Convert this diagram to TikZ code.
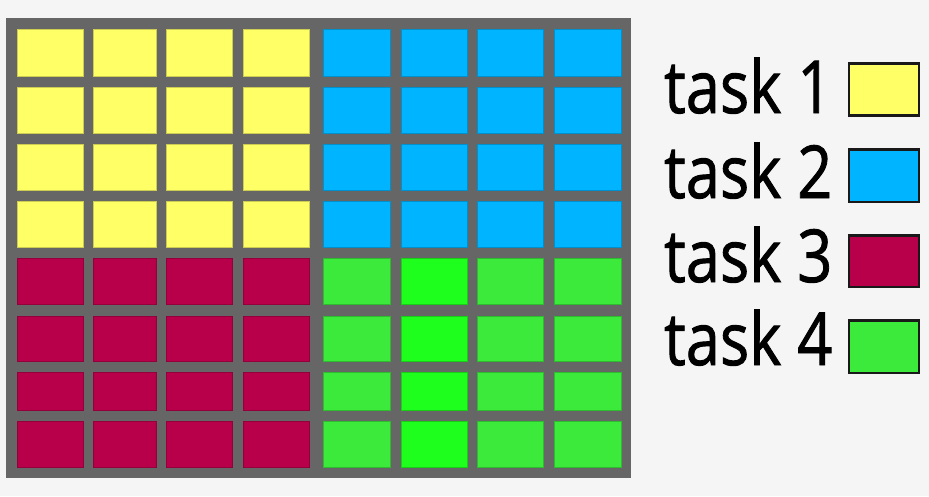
\documentclass[tikz,border=0pt]{standalone}
\usepackage{fontspec}
\setmainfont{Open Sans}
\newfontfamily\legfont[FakeBold=1.3]{Open Sans}
\definecolor{bg}{HTML}{F5F5F5}
\definecolor{frame}{HTML}{666666}
\definecolor{tyellow}{HTML}{FFFF66}
\definecolor{tblue}{HTML}{00B4FF}
\definecolor{tred}{HTML}{B8004A}
\definecolor{tgreen}{HTML}{3BEA3B}
\definecolor{tlime}{HTML}{1EFF1E}
\begin{document}
\begin{tikzpicture}[x=1pt,y=-1pt,
  cell/.style={line width=0.8pt},
  legbox/.style={draw=black!90, line width=2.6pt},
  legtext/.style={anchor=base west, inner sep=0pt, font=\legfont\fontsize{73}{73}\selectfont}]
\fill[bg] (0,0) rectangle (929,496);
\useasboundingbox (0,0) rectangle (929,496);
\fill[frame] (6,18) rectangle (631,478);
\foreach \xa/\xb [count=\i] in {17/83,93/156,166/232,243/309,323/390,401/467,477/543,554/621}{
  \foreach \ya/\yb [count=\j] in {29/76,87/133,144/190,201/247,258/304,316/361,372/410,421/467}{
    \ifnum\i<5
      \ifnum\j<5 \def\cc{tyellow}\else\def\cc{tred}\fi
    \else
      \ifnum\j<5 \def\cc{tblue}\else
        \ifnum\i=6 \def\cc{tlime}\else\def\cc{tgreen}\fi
      \fi
    \fi
    \draw[cell, fill=\cc, draw=\cc!80!black] (\xa,\ya) rectangle (\xb,\yb);
  }
}
\node[legtext] (t1) at (664,113) {\scalebox{0.84}[1]{task 1}};
\node[legtext] (t2) at (664,198) {\scalebox{0.84}[1]{task 2}};
\node[legtext] (t3) at (664,282) {\scalebox{0.84}[1]{task 3}};
\node[legtext] (t4) at (664,365) {\scalebox{0.84}[1]{task 4}};
\draw[legbox, fill=tyellow] (849,63.5) rectangle (919,115.5);
\draw[legbox, fill=tblue] (849,149.5) rectangle (919,202);
\draw[legbox, fill=tred] (849,235.5) rectangle (919,287);
\draw[legbox, fill=tgreen] (849,320.5) rectangle (919,373);
\end{tikzpicture}
\end{document}
